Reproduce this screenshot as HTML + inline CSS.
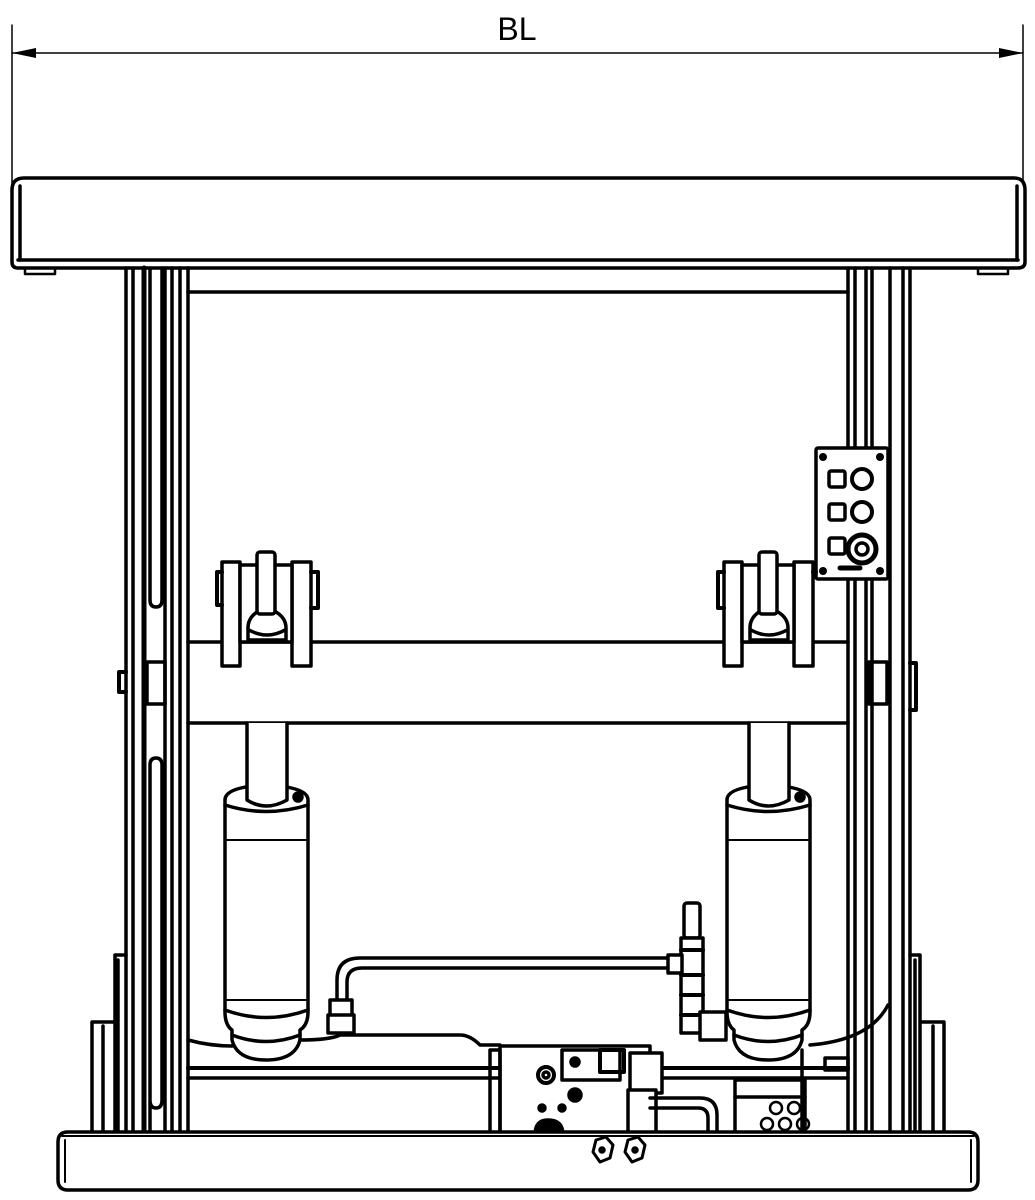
<!DOCTYPE html>
<html><head><style>html,body{margin:0;padding:0;background:#fff}svg{display:block}</style></head>
<body>
<svg width="1035" height="1200" viewBox="0 0 1035 1200" xmlns="http://www.w3.org/2000/svg" fill="none" stroke="#000" stroke-width="3.5" stroke-linejoin="round" stroke-linecap="round">
<g stroke-width="1.5">
<line x1="12" y1="25" x2="12" y2="185"/>
<line x1="1023" y1="25" x2="1023" y2="185"/>
<line x1="12" y1="53" x2="1023" y2="53"/>
</g>
<path d="M12 53 L36 48 L36 58 Z M1023 53 L999 48 L999 58 Z" fill="#000" stroke="none"/>
<text x="517" y="40" font-family="Liberation Sans, sans-serif" font-size="32" text-anchor="middle" fill="#000" stroke="none">BL</text>

<path d="M24 178 H1014 Q1025 178 1025 190 V262 Q1025 268 1018 268 H18 Q12 268 12 262 V190 Q12 178 24 178 Z"/>
<line x1="20" y1="186" x2="20" y2="260"/>
<line x1="1017" y1="186" x2="1017" y2="260"/>
<line x1="18" y1="260" x2="1018" y2="260"/>
<path d="M25 268 V274 H55 V268 M978 268 V274 H1008 V268" stroke-width="2.5"/>

<line x1="188" y1="292" x2="848" y2="292"/>

<g>
<line x1="126" y1="268" x2="126" y2="1135"/>
<line x1="133" y1="268" x2="133" y2="1135"/>
<line x1="144" y1="268" x2="144" y2="1135" stroke-width="5"/>
<line x1="172" y1="268" x2="172" y2="1135"/>
<line x1="180" y1="268" x2="180" y2="1135"/>
<line x1="188" y1="268" x2="188" y2="1135"/>
<path d="M150 268 V600 Q150 607 156 607 Q162 607 162 600 V268"/>
<path d="M165 268 V1135"/>
<path d="M150 1135 V765 Q150 758 156 758 Q162 758 162 765 V1100 Q162 1108 156 1108 Q150 1108 150 1100"/>
<rect x="147" y="662" width="18" height="42"/>
<path d="M126 672 H119 V692 H126" stroke-width="4"/>
</g>
<g>
<line x1="848" y1="268" x2="848" y2="1135"/>
<line x1="855" y1="268" x2="855" y2="1135"/>
<line x1="866" y1="268" x2="866" y2="1135"/>
<line x1="872" y1="268" x2="872" y2="1135"/>
<line x1="890" y1="268" x2="890" y2="1135"/>
<line x1="903" y1="268" x2="903" y2="1135"/>
<line x1="910" y1="268" x2="910" y2="1135"/>
<rect x="869" y="662" width="18" height="42"/>
<path d="M910 663 H916 V710 H910" stroke-width="4"/>
</g>

<rect x="816" y="448" width="72" height="131" rx="2" fill="#fff"/>
<g fill="#000" stroke="none">
<circle cx="823" cy="457" r="4"/><circle cx="880" cy="457" r="4"/>
<circle cx="823" cy="571" r="4"/><circle cx="880" cy="571" r="4"/>
</g>
<rect x="829" y="471" width="16" height="16" rx="2"/>
<rect x="829" y="504" width="16" height="16" rx="2"/>
<rect x="829" y="538" width="16" height="16" rx="2"/>
<circle cx="862" cy="479" r="10" stroke-width="4"/>
<circle cx="862" cy="512" r="10" stroke-width="4"/>
<circle cx="862" cy="549" r="14" stroke-width="5"/>
<circle cx="862" cy="549" r="6"/>
<line x1="840" y1="568" x2="860" y2="568" stroke-width="5"/>

<line x1="188" y1="642" x2="848" y2="642"/>
<line x1="188" y1="723" x2="848" y2="723"/>

<g fill="#fff">
<rect x="222" y="562" width="18" height="104"/>
<rect x="292" y="562" width="19" height="104"/>
<rect x="240" y="565" width="52" height="77"/>
<path d="M248 640 V628 Q248 618 257 612 H276 Q286 618 286 628 V640 Z"/>
<rect x="257" y="552" width="18" height="62" rx="3"/>
</g>
<path d="M249 630 Q267 640 285 630"/>
<path d="M222 572 H217 V605 H222 M311 572 H318 V608 H311" stroke-width="4"/>
<g fill="#fff">
<rect x="724" y="562" width="18" height="104"/>
<rect x="794" y="562" width="19" height="104"/>
<rect x="742" y="565" width="52" height="77"/>
<path d="M750 640 V628 Q750 618 759 612 H778 Q788 618 788 628 V640 Z"/>
<rect x="759" y="552" width="18" height="62" rx="3"/>
</g>
<path d="M751 630 Q769 640 787 630"/>
<path d="M724 572 H718 V608 H724 M813 572 H816" stroke-width="4"/>

<g id="cyl">
<path d="M225 800 Q225 787 266 785 Q308 787 308 800 V1012 Q308 1025 300 1030 V1040 Q295 1060 266 1060 Q237 1060 232 1040 V1030 Q225 1025 225 1012 Z" fill="#fff"/>
<path d="M225 805 Q266 818 308 805"/>
<path d="M225 840 H308 M225 1000 H308" stroke-width="2"/>
<path d="M225 1010 Q266 1025 308 1010"/>
<path d="M232 1035 Q266 1048 300 1035"/>
<path d="M247 723 V800 Q266 812 287 800 V723" fill="#fff"/>
<circle cx="298" cy="797" r="4" fill="#000"/>
</g>
<use href="#cyl" transform="translate(502 0)"/>

<line x1="188" y1="1068" x2="848" y2="1068" stroke-width="4"/>
<line x1="188" y1="1078" x2="848" y2="1078"/>
<path d="M188 1040 Q210 1046 232 1046 M300 1040 Q330 1040 340 1035 H460 Q470 1035 480 1045 H500"/>
<path d="M810 1045 Q870 1040 888 1005"/>

<path d="M337 1012 V980 Q337 958 360 958 H672" />
<path d="M347 1012 V982 Q347 968 362 968 H672"/>
<rect x="330" y="1000" width="22" height="22" fill="#fff"/>
<rect x="328" y="1015" width="26" height="18" fill="#fff"/>
<rect x="684" y="903" width="16" height="35" rx="3" fill="#fff"/>
<rect x="681" y="938" width="22" height="95" fill="#fff"/>
<rect x="668" y="955" width="14" height="18" fill="#fff"/>
<path d="M681 950 H703 M681 975 H703 M681 995 H703 M681 1015 H703" stroke-width="4"/>
<rect x="700" y="1012" width="26" height="28" fill="#fff"/>

<rect x="500" y="1046" width="150" height="90" fill="#fff"/>
<rect x="562" y="1050" width="58" height="30" fill="#fff"/>
<rect x="600" y="1050" width="24" height="22" stroke-width="4"/>
<circle cx="575" cy="1062" r="4" fill="#000"/>
<circle cx="546" cy="1075" r="8" stroke-width="4"/>
<circle cx="546" cy="1075" r="3"/>
<circle cx="575" cy="1095" r="6" fill="#000"/>
<circle cx="542" cy="1108" r="3" fill="#000"/><circle cx="562" cy="1108" r="3" fill="#000"/>
<path d="M535 1135 Q535 1120 548 1120 Q563 1120 563 1135 Z" fill="#000"/>
<rect x="630" y="1053" width="32" height="40" fill="#fff"/>
<rect x="628" y="1090" width="28" height="45" fill="#fff"/>
<path d="M650 1098 H700 Q717 1098 717 1115 V1135 M650 1108 H698 Q708 1108 708 1118 V1135"/>
<rect x="490" y="1050" width="10" height="85"/>
<rect x="735" y="1080" width="70" height="55"/>
<line x1="735" y1="1097" x2="805" y2="1097"/>
<g stroke-width="2.5">
<circle cx="776" cy="1108" r="6"/><circle cx="794" cy="1108" r="6"/>
<circle cx="767" cy="1124" r="6"/><circle cx="785" cy="1124" r="6"/><circle cx="803" cy="1124" r="6"/>
</g>
<line x1="802" y1="1050" x2="802" y2="1135"/>
<rect x="825" y="1058" width="23" height="12"/>

<path d="M92 1135 V1022 H115 V955 H126 M103 1135 V1026 M115 1135 V1022 M118 1135 V960"/>
<path d="M944 1135 V1022 H920 V955 H910 M933 1135 V1026 M920 1135 V1022 M915 1135 V960"/>

<path d="M68 1132 H968 Q978 1132 978 1142 V1180 Q978 1190 968 1190 H68 Q58 1190 58 1180 V1142 Q58 1132 68 1132 Z" fill="#fff"/>
<line x1="65" y1="1140" x2="65" y2="1182" stroke-width="2"/>
<line x1="971" y1="1140" x2="971" y2="1182" stroke-width="2"/>
<line x1="62" y1="1136" x2="974" y2="1136" stroke-width="2"/>

<path d="M596 1140 L606 1137 L613 1145 L610 1158 L600 1162 L593 1152 Z M628 1140 L638 1137 L645 1145 L642 1158 L632 1162 L625 1152 Z" fill="#fff" stroke-width="3"/>
<circle cx="602" cy="1150" r="2"/><circle cx="635" cy="1150" r="2"/>
</svg>
</body></html>
